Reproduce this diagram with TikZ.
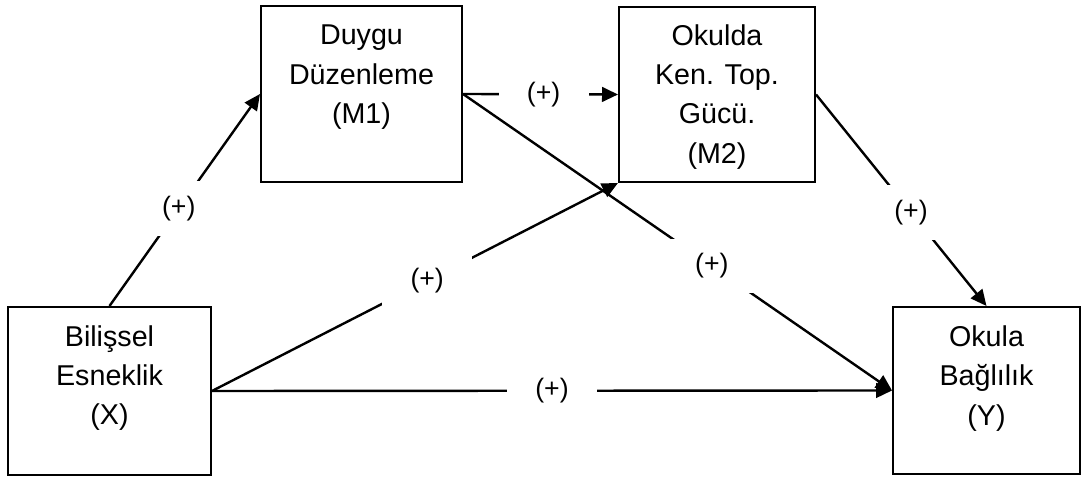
\documentclass[tikz,border=0pt]{standalone}
\usepackage{fontspec}
\setmainfont{Liberation Sans}
\usetikzlibrary{arrows.meta,positioning}

\begin{document}
\begin{tikzpicture}[x=0.75pt,y=0.75pt,
  varbox/.style={draw,line width=1.5pt,inner sep=0pt},
  vartext/.style={align=center,inner sep=0pt,font=\fontsize{21.5}{29.5}\selectfont},
  link/.style={-{Triangle[length=12pt,width=11pt]},line width=1.8pt},
  sign/.style={fill=white,inner sep=0pt,minimum width=67.5pt,minimum height=41pt,
    font=\fontsize{20}{24}\selectfont}]

\useasboundingbox (0,0) rectangle (1084,477);

% variables
\node[varbox,minimum width=152.25pt,minimum height=126pt] (x) at (109.5,86) {};
\node[varbox,minimum width=150.75pt,minimum height=132pt] (m1) at (361.5,383) {};
\node[varbox,minimum width=147pt,minimum height=131.25pt] (m2) at (717,382.5) {};
\node[varbox,minimum width=140.25pt,minimum height=125.25pt] (y) at (986.5,86.5) {};

\node[vartext,below=14.25pt of x.north] (xt) {Bilişsel\\Esneklik\\(X)};
\node[vartext,below=15pt of m1.north] (m1t) {Duygu\\Düzenleme\\(M1)};
\node[vartext,below=13.5pt of m2.north] (m2t) {Okulda\\Ken. Top.\\Gücü.\\(M2)};
\node[vartext,below=14.5pt of y.north] (yt) {Okula\\Bağlılık\\(Y)};

% paths, all positive
\draw[link] (x.north) -- node[sign,pos=0.46] (a) {(+)} (m1.west);
\draw[link] (m1.east) -- node[sign,pos=0.52] (d) {(+)} (m2.west);
\draw[link] (x.east) -- node[sign,pos=0.53] (e) {(+)} (m2.south west);
\draw[link] (m1.east) -- node[sign,pos=0.58] (f) {(+)} (y.west);
\draw[link] (x.east) -- node[sign,pos=0.5] (c) {(+)} (y.west);
\draw[link] (m2.east) -- node[sign,pos=0.557] (b) {(+)} (y.north);
\end{tikzpicture}
\end{document}
